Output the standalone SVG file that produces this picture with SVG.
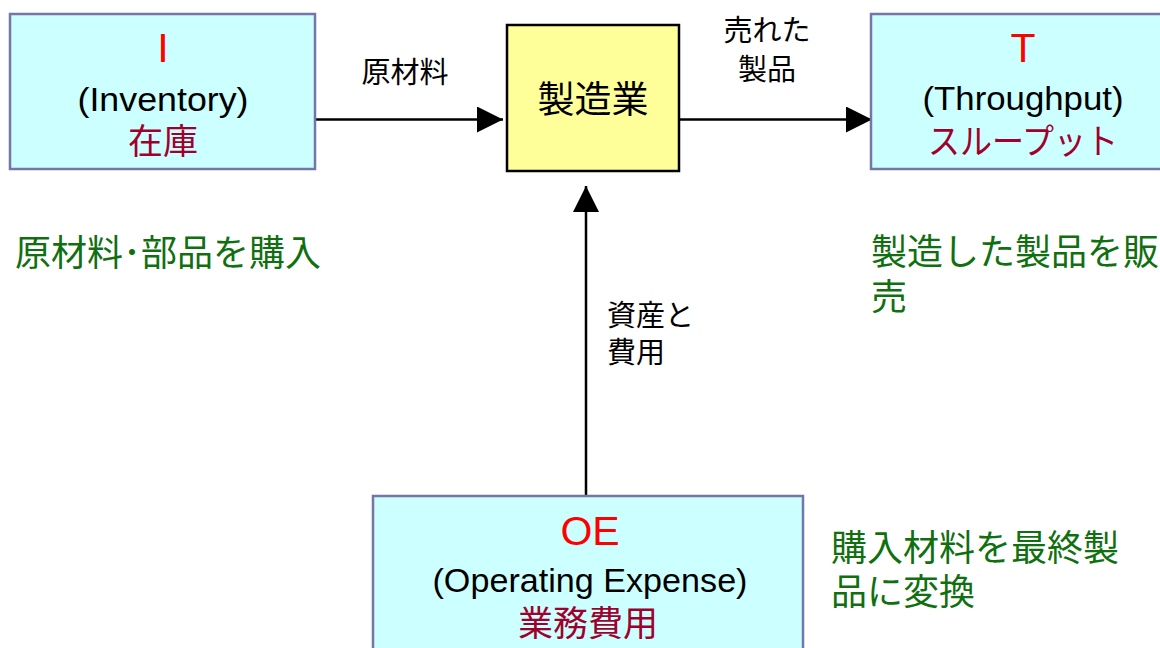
<svg xmlns="http://www.w3.org/2000/svg" width="1160" height="648" viewBox="0 0 1160 648">
<style>
.box{fill:#ccffff;stroke:#7676a6;stroke-width:2.5}
.mfg{fill:#ffff99;stroke:#000;stroke-width:2.5}
.red{font-family:"Liberation Sans",Arial,sans-serif;font-size:41px;fill:#ff0000;text-anchor:middle}
.en{font-family:"Liberation Sans",Arial,sans-serif;font-size:33px;fill:#000;text-anchor:middle}
.jr{font-family:"Noto Sans CJK JP",sans-serif;font-size:35px;fill:#a0002c;text-anchor:middle}
.lbl{font-family:"Noto Sans CJK JP",sans-serif;font-size:29px;fill:#000}
.grn{font-family:"Noto Sans CJK JP",sans-serif;font-size:36px;fill:#107010}
.line{stroke:#000;stroke-width:2.5;fill:none}
</style>
<defs>
<marker id="ah" markerUnits="userSpaceOnUse" markerWidth="28" markerHeight="28" refX="26" refY="13" orient="auto">
<path d="M0,0 L26,13 L0,26 Z" fill="#000"/>
</marker>
</defs>
<g id="connectors">
<line class="line" x1="315" y1="119.5" x2="503" y2="119.5" marker-end="url(#ah)"/>
<line class="line" x1="679" y1="119.5" x2="872" y2="119.5" marker-end="url(#ah)"/>
<line class="line" x1="586" y1="496" x2="586" y2="186" marker-end="url(#ah)"/>
<text class="lbl" x="405" y="83" text-anchor="middle">原材料</text>
<text class="lbl" text-anchor="middle"><tspan x="767" y="41">売れた</tspan><tspan x="767" y="80">製品</tspan></text>
<text class="lbl"><tspan x="607" y="326">資産と</tspan><tspan x="607" y="363">費用</tspan></text>
</g>
<g id="node-I">
<rect class="box" x="10" y="14" width="305" height="155"/>
<text class="red" x="163" y="62">I</text>
<text class="en" x="163" y="111" textLength="171" lengthAdjust="spacingAndGlyphs">(Inventory)</text>
<text class="jr" x="163" y="154">在庫</text>
</g>
<g id="node-mfg">
<rect class="mfg" x="507" y="25" width="172" height="146"/>
<text x="593" y="113" font-family="'Noto Sans CJK JP',sans-serif" font-size="37" fill="#000" text-anchor="middle">製造業</text>
</g>
<g id="node-T">
<rect class="box" x="871" y="14" width="305" height="155"/>
<text class="red" x="1023" y="62">T</text>
<text class="en" x="1023" y="110" textLength="201" lengthAdjust="spacingAndGlyphs">(Throughput)</text>
<text class="jr" x="1023" y="154" textLength="190" lengthAdjust="spacingAndGlyphs">スループット</text>
</g>
<g id="node-OE">
<rect class="box" x="373" y="496" width="430" height="170"/>
<text class="red" x="590" y="545">OE</text>
<text class="en" x="590" y="592" textLength="315" lengthAdjust="spacingAndGlyphs">(Operating Expense)</text>
<text class="jr" x="588" y="636">業務費用</text>
</g>
<g id="notes">
<text class="grn" x="15" y="266">原材料･部品を購入</text>
<text class="grn"><tspan x="871" y="265">製造した製品を販</tspan><tspan x="871" y="310">売</tspan></text>
<text class="grn"><tspan x="831" y="561">購入材料を最終製</tspan><tspan x="831" y="605">品に変換</tspan></text>
</g>
</svg>
